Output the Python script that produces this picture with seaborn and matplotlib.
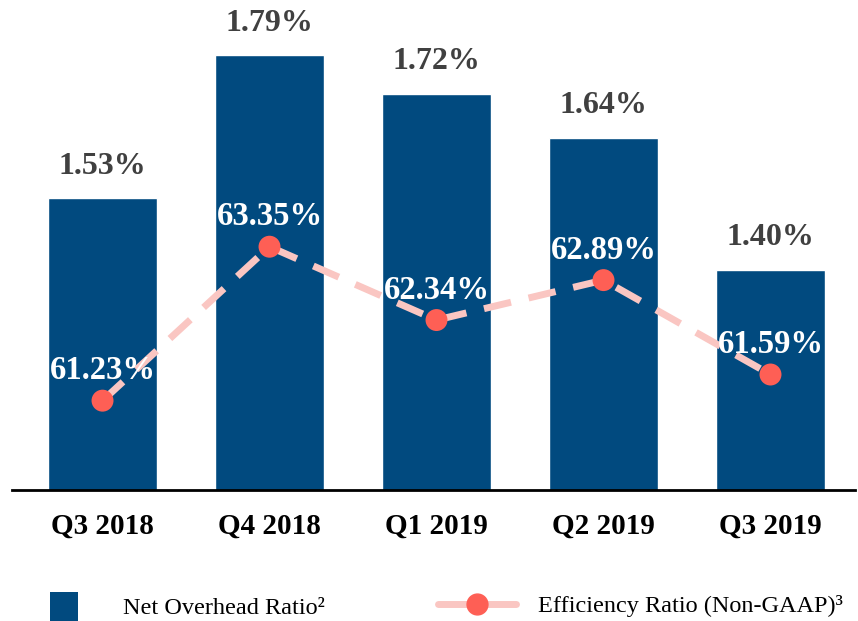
import numpy as np
import pandas as pd
import matplotlib
matplotlib.use("Agg")
import matplotlib.pyplot as plt
import seaborn as sns
from matplotlib.patches import Patch
from matplotlib.lines import Line2D

# datos
quarters = ["Q3 2018", "Q4 2018", "Q1 2019", "Q2 2019", "Q3 2019"]
overhead = [1.53, 1.79, 1.72, 1.64, 1.40]
efficiency = [61.23, 63.35, 62.34, 62.89, 61.59]

bar_color = "#014A7F"
line_color = "#FAC6C2"
marker_color = "#FE5F55"

sns.set_theme(style="white")
plt.rcParams['font.family'] = ['Liberation Serif', 'DejaVu Serif']

df = pd.DataFrame({"quarter": quarters, "overhead": overhead, "efficiency": efficiency})

fig = plt.figure(figsize=(8.58, 6.21), dpi=100)
ax = fig.add_axes([0.014, 0.211, 0.9825, 0.757])

sns.barplot(data=df, x="quarter", y="overhead", color=bar_color, saturation=1,
            width=0.65, ax=ax)
ax.set_ylim(1.0, 1.0 + 470 / 550)
ax.set_xlim(-0.542, 4.506)

for i, v in enumerate(overhead):
    ax.annotate(f"{v:.2f}%", (i, v), xytext=(0, 23), textcoords="offset points",
                ha="center", va="center", fontsize=23, fontweight="bold", color="#404040")

# eje secundario para el ratio de eficiencia
ax2 = ax.twinx()
pos = np.arange(len(quarters))
sns.lineplot(x=pos, y=efficiency, ax=ax2, color=line_color, linewidth=5,
             linestyle=(0, (4, 2.6)), zorder=3)
sns.scatterplot(x=pos, y=efficiency, ax=ax2, color=marker_color, s=250,
                edgecolor="none", zorder=4)
ax2.set_ylim(60.0, 60.0 + 470 / 72.6)
ax2.set_xlim(-0.542, 4.506)

for i, v in enumerate(efficiency):
    ax2.annotate(f"{v:.2f}%", (i, v), xytext=(0, 21.5), textcoords="offset points",
                 ha="center", va="center", fontsize=23.5, fontweight="bold", color="white",
                 zorder=5)

for a in (ax, ax2):
    for s in ["top", "left", "right"]:
        a.spines[s].set_visible(False)
    a.set_yticks([])
    a.set_ylabel("")
    a.set_xlabel("")
ax.spines["bottom"].set_color("black")
ax.spines["bottom"].set_linewidth(2)
ax2.spines["bottom"].set_visible(False)

ax.tick_params(axis="x", length=0, pad=16)
for lbl in ax.get_xticklabels():
    lbl.set_fontsize(21)
    lbl.set_fontweight("bold")
    lbl.set_color("black")

# leyenda
h1 = Patch(facecolor=bar_color, edgecolor="none")
leg1 = fig.legend([h1], ["Net Overhead Ratio\u00b2"], loc="center left",
                  bbox_to_anchor=(0.0583, 0.024), frameon=False, fontsize=17.5,
                  handlelength=1.15, handleheight=1.45, handletextpad=1.85,
                  borderpad=0, borderaxespad=0)
h2 = Line2D([0], [0], color=line_color, linewidth=5, marker="o", markersize=15,
            markerfacecolor=marker_color, markeredgecolor=marker_color)
leg2 = fig.legend([h2], ["Efficiency Ratio (Non-GAAP)\u00b3"], loc="center left",
                  bbox_to_anchor=(0.5105, 0.024), frameon=False, fontsize=17.5,
                  handlelength=3.2, handletextpad=0.9, borderpad=0, borderaxespad=0)
for leg in (leg1, leg2):
    for t in leg.get_texts():
        t.set_color("black")

fig.savefig("out.png", dpi=100)
